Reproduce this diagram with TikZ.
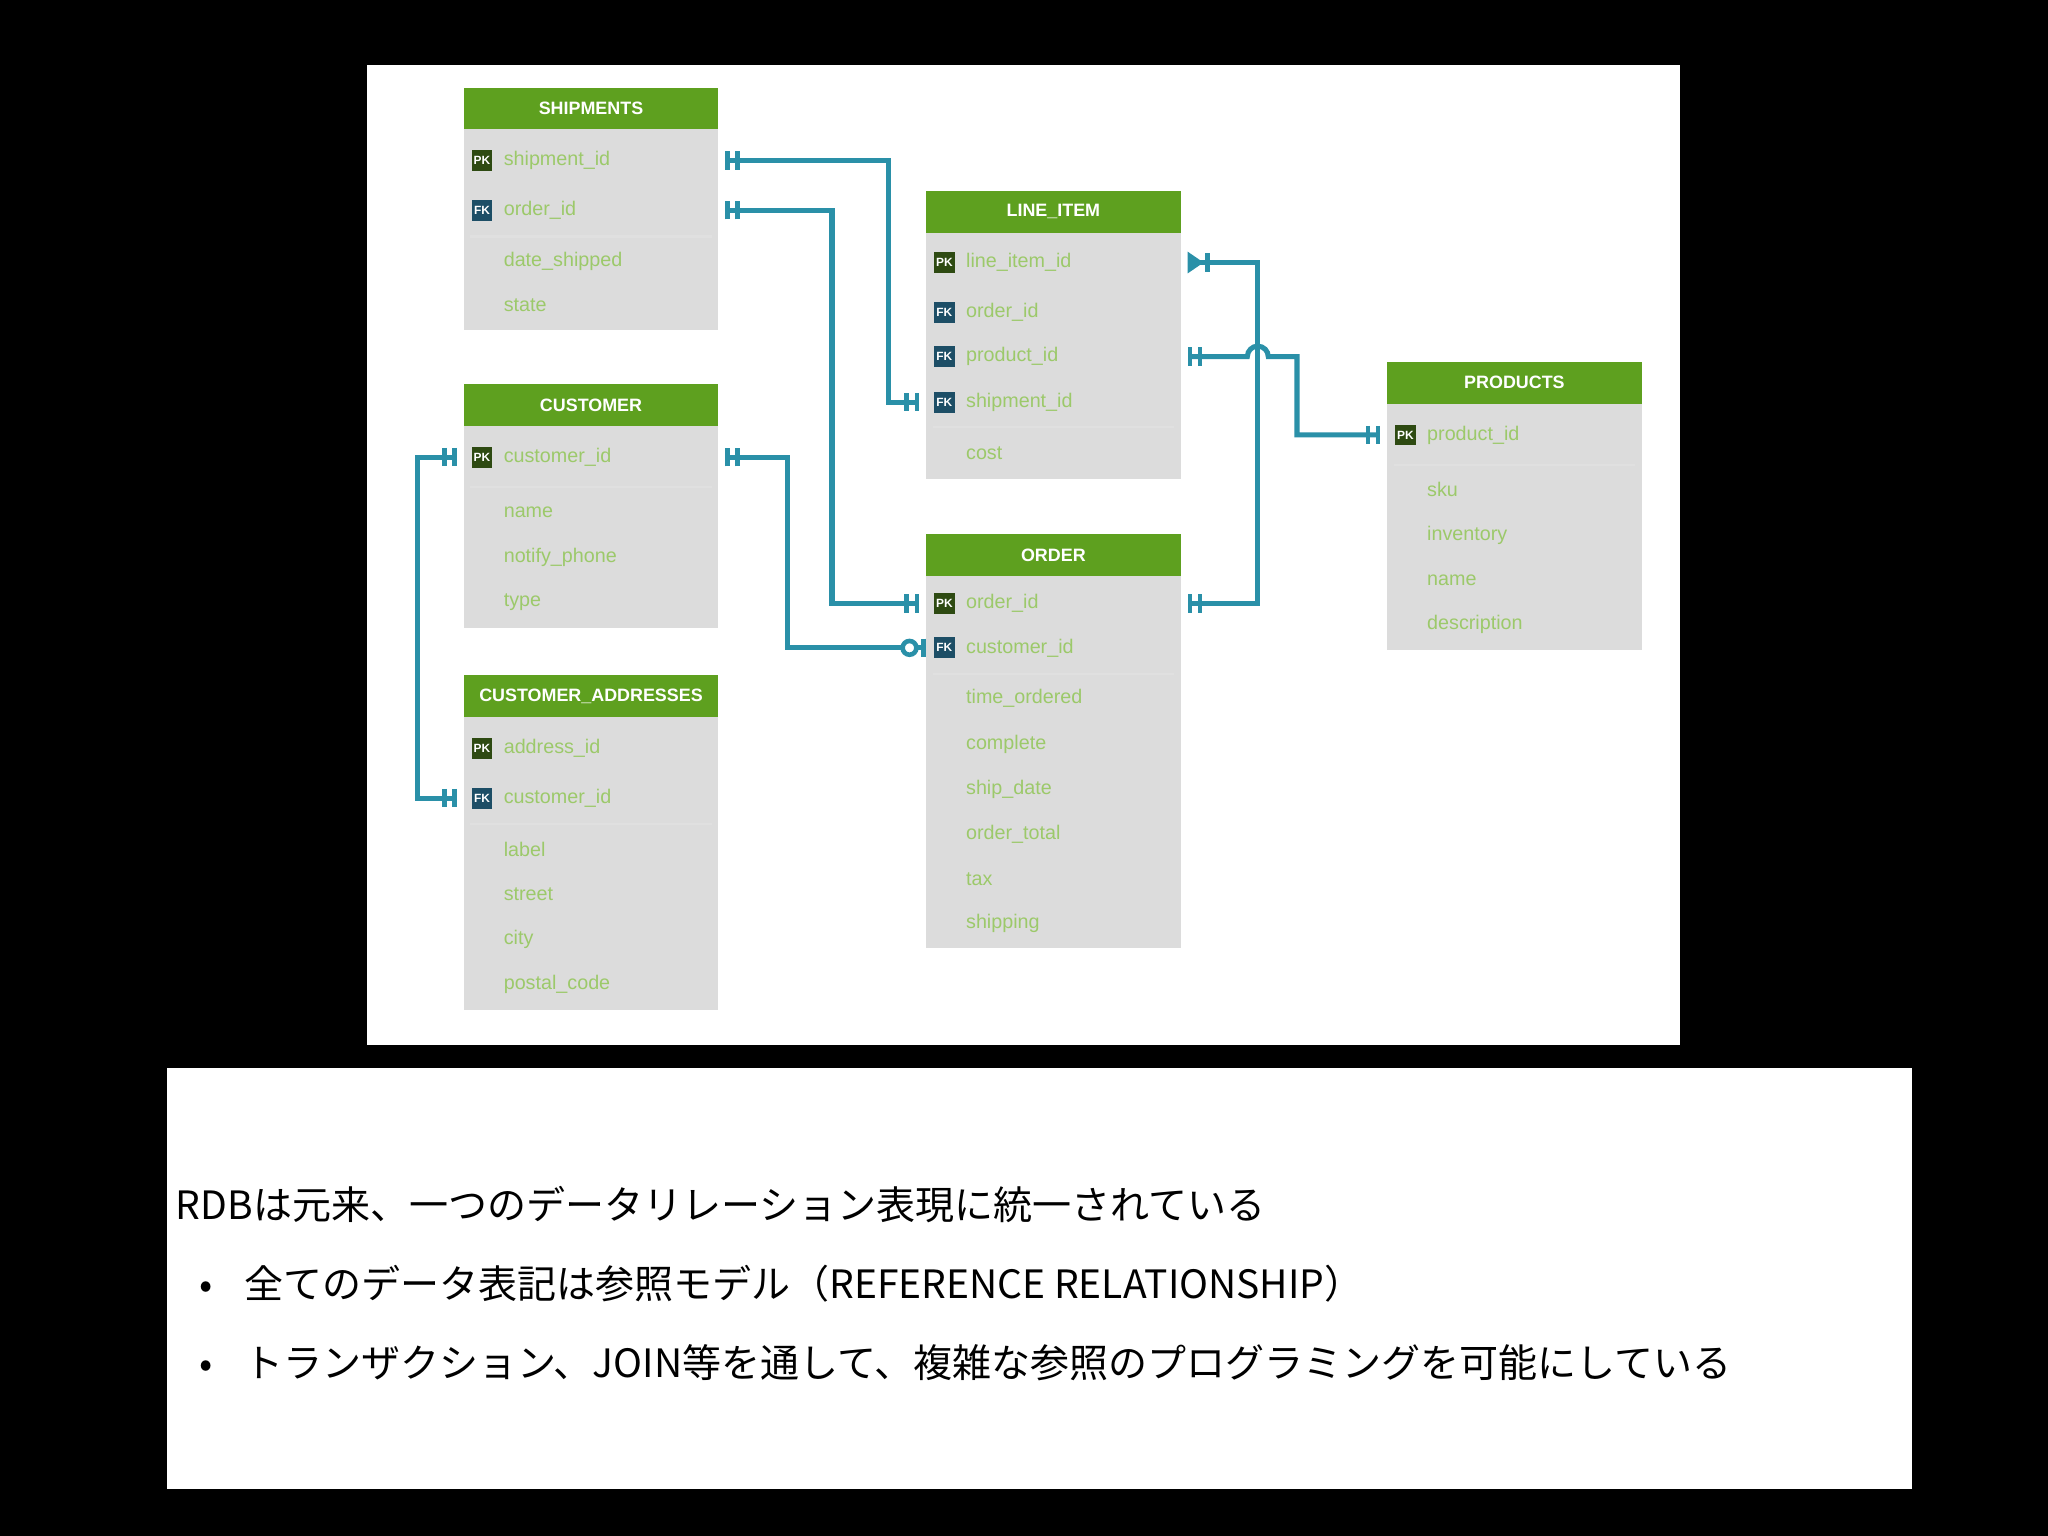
\documentclass[tikz,border=0pt]{standalone}
\usepackage{fontspec}
\setmainfont{Liberation Sans}
\newfontfamily\cjk{Noto Sans CJK JP}
\usetikzlibrary{arrows.meta}
\definecolor{hgreen}{HTML}{5EA01F}
\definecolor{bodyg}{HTML}{DCDCDC}
\definecolor{ftxt}{HTML}{9CC96A}
\definecolor{conn}{HTML}{2A90A8}
\definecolor{pkc}{HTML}{2E4A12}
\definecolor{fkc}{HTML}{1D4E66}
\tikzset{
  htext/.style={text=white,font=\fontsize{3.9pt}{4pt}\selectfont\bfseries,inner sep=0},
  ftext/.style={text=ftxt,font=\fontsize{4.3pt}{5pt}\selectfont,anchor=west,inner sep=0},
  key/.style={font=\fontsize{2.6pt}{3pt}\selectfont\bfseries,text=white,minimum width=1.6mm,minimum height=1.6mm,inner sep=0},
  PK/.style={key,fill=pkc},
  FK/.style={key,fill=fkc},
  sep/.style={draw=black!12,line width=0.5pt},
  conn/.style={draw=conn,line width=1.1pt},
  bb/.tip={Bar[width=4pt,line width=1pt,sep=1.2pt]Bar[width=4pt,line width=1pt,sep=1.5pt]},
  zc/.tip={Circle[open,length=4pt,width=4pt,line width=1pt,fill=white,sep=0.6pt]Bar[width=4pt,line width=1pt]},
  cf/.tip={Bar[width=4pt,line width=1pt,sep=0.3pt]Triangle[reversed,length=3.5pt,width=4.5pt,sep=1.5pt]},
}
\newcommand\tbl[5]{%
  \fill[bodyg] (#2,#3) rectangle ({#2+195},#4);
  \fill[hgreen] (#2,#3) rectangle ({#2+195},{#3+32});
  \node[htext] (#1) at ({#2+97.5},{#3+16}) {#5};}
\newcommand\fld[5]{%
  \coordinate (#1-L) at (#2,#3); \coordinate (#1-R) at ({#2+195},#3);
  \node[#5] (#1-k) at ({#2+14},#3) {#5};
  \node[ftext] (#1) at ({#2+30},#3) {#4};}
\newcommand\pl[4]{\node[ftext] (#1) at ({#2+30},#3) {#4};}
\newcommand\sepl[2]{\draw[sep] ({#1+5},#2) -- ({#1+190},#2);}
\begin{document}
\begin{tikzpicture}[x=0.1mm,y=-0.1mm]
\fill[black] (0,0) rectangle (1568,1176);
\useasboundingbox (0,0) rectangle (1568,1176);
\fill[white] (281,50) rectangle (1286,800);
\fill[white] (128,818) rectangle (1464,1140);
% SHIPMENTS
\tbl{ship}{355}{67}{253}{SHIPMENTS}
\fld{ship-sid}{355}{123}{shipment\_id}{PK}
\fld{ship-oid}{355}{161}{order\_id}{FK}
\sepl{355}{181}
\pl{ship-ds}{355}{200}{date\_shipped}
\pl{ship-st}{355}{234}{state}
% CUSTOMER
\tbl{cust}{355}{294}{481}{CUSTOMER}
\fld{cust-cid}{355}{350}{customer\_id}{PK}
\sepl{355}{373}
\pl{cust-n}{355}{392}{name}
\pl{cust-np}{355}{427}{notify\_phone}
\pl{cust-t}{355}{461}{type}
% CUSTOMER_ADDRESSES
\tbl{ca}{355}{517}{773}{CUSTOMER\_ADDRESSES}
\fld{ca-aid}{355}{573}{address\_id}{PK}
\fld{ca-cid}{355}{611}{customer\_id}{FK}
\sepl{355}{631}
\pl{ca-l}{355}{650}{label}
\pl{ca-s}{355}{685}{street}
\pl{ca-c}{355}{719}{city}
\pl{ca-p}{355}{754}{postal\_code}
% LINE_ITEM
\tbl{li}{709}{146}{367}{LINE\_ITEM}
\fld{li-lid}{709}{201}{line\_item\_id}{PK}
\fld{li-oid}{709}{239}{order\_id}{FK}
\fld{li-pid}{709}{273}{product\_id}{FK}
\fld{li-sid}{709}{308}{shipment\_id}{FK}
\sepl{709}{327}
\pl{li-c}{709}{347}{cost}
% ORDER
\tbl{ord}{709}{409}{726}{ORDER}
\fld{ord-oid}{709}{462}{order\_id}{PK}
\fld{ord-cid}{709}{496}{customer\_id}{FK}
\sepl{709}{516}
\pl{ord-to}{709}{535}{time\_ordered}
\pl{ord-c}{709}{570}{complete}
\pl{ord-sd}{709}{604}{ship\_date}
\pl{ord-ot}{709}{639}{order\_total}
\pl{ord-t}{709}{673}{tax}
\pl{ord-s}{709}{707}{shipping}
% PRODUCTS
\tbl{prod}{1062}{277}{498}{PRODUCTS}
\fld{prod-pid}{1062}{333}{product\_id}{PK}
\sepl{1062}{356}
\pl{prod-s}{1062}{375}{sku}
\pl{prod-i}{1062}{410}{inventory}
\pl{prod-n}{1062}{444}{name}
\pl{prod-d}{1062}{478}{description}
% connectors
\draw[conn,bb-bb] (ship-sid-R) -- ++(130,0) |- (li-sid-L);
\draw[conn,bb-bb] (ship-oid-R) -- ++(87,0) |- (ord-oid-L);
\draw[conn,bb-zc] (cust-cid-R) -- ++(53,0) |- (ord-cid-L);
\draw[conn,bb-bb] (cust-cid-L) -- ++(-35,0) |- (ca-cid-L);
\draw[conn,cf-bb] (li-lid-R) -- ++(59,0) |- (ord-oid-R);
\draw[conn,bb-bb] (li-pid-R) -- ++(51,0) arc[start angle=180,end angle=0,radius=0.8mm] -- ++(22,0) |- (prod-pid-L);
% text
\node[anchor=west,inner sep=0,font=\cjk\fontsize{8.5pt}{10pt}\selectfont] (t1) at (134,922) {RDBは元来、一つのデータリレーション表現に統一されている};
\node[anchor=west,inner sep=0,font=\cjk\fontsize{8.5pt}{10pt}\selectfont] (t2) at (152,983) {•\hspace{2.4mm}全てのデータ表記は参照モデル（REFERENCE RELATIONSHIP）};
\node[anchor=west,inner sep=0,font=\cjk\fontsize{8.5pt}{10pt}\selectfont] (t3) at (152,1043) {•\hspace{2.4mm}トランザクション、JOIN等を通して、複雑な参照のプログラミングを可能にしている};
\end{tikzpicture}
\end{document}
